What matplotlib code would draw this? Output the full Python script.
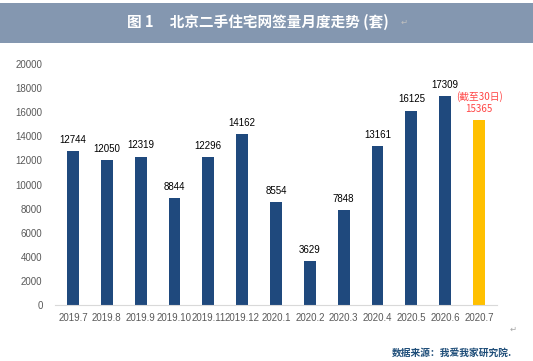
import numpy as np
import matplotlib.pyplot as plt
from matplotlib.patches import Rectangle

plt.rcParams['font.family'] = ['Liberation Sans', 'Noto Sans CJK SC', 'DejaVu Sans']

months = ["2019.7", "2019.8", "2019.9", "2019.10", "2019.11", "2019.12", "2020.1",
          "2020.2", "2020.3", "2020.4", "2020.5", "2020.6", "2020.7"]
values = [12744, 12050, 12319, 8844, 12296, 14162, 8554, 3629, 7848, 13161, 16125, 17309, 15365]
yticks = [0, 2000, 4000, 6000, 8000, 10000, 12000, 14000, 16000, 18000, 20000]

blue = "#1F497D"
gold = "#FFC000"
grey = "#595959"

fig = plt.figure(figsize=[5.33, 3.61], dpi=100)

# title band
fig.patches.append(Rectangle((0, 1 - 43/361), 1, 40/361, transform=fig.transFigure,
                             facecolor="#8497B0", edgecolor="none"))
fig.text(0.484, 1 - 22/361, "图 1     北京二手住宅网签量月度走势 (套)", color="white",
         fontsize=10.5, fontweight="bold", ha="center", va="center",
         family=['Noto Sans CJK SC', 'DejaVu Sans'])
fig.text(0.758, 1 - 22/361, "↵", color="#BFBFBF", fontsize=6, ha="center", va="center",
         family=['DejaVu Sans'])

ax = fig.add_axes([55/533, 1 - 305/361, 442/533, 241/361])
x = np.arange(len(months))
colors = [blue] * (len(months) - 1) + [gold]
ax.bar(x, values, width=0.35, color=colors)

for i, v in enumerate(values[:-1]):
    ax.annotate(str(v), (x[i], v), xytext=(0, 4.5), textcoords="offset points",
                ha="center", va="bottom", fontsize=7, color="black")
ax.annotate("(截至30日)\n15365", (x[-1], values[-1]), xytext=(0, 4.5),
            textcoords="offset points", ha="center", va="bottom", fontsize=7,
            color="#FF4545", linespacing=1.25,
            family=['Noto Sans CJK SC', 'DejaVu Sans'])

ax.set_xlim(-0.53, len(months) - 0.47)
ax.set_ylim(0, 20000)
ax.set_yticks(yticks)
ax.set_yticklabels([str(t) for t in yticks])
ax.set_xticks(x)
ax.set_xticklabels(months)
ax.tick_params(axis="both", length=0, labelsize=7, labelcolor=grey)
ax.tick_params(axis="y", pad=9)
ax.tick_params(axis="x", pad=6)
for s in ["top", "right", "left"]:
    ax.spines[s].set_visible(False)
ax.spines["bottom"].set_color("#D9D9D9")

fig.text(513/533, 1 - 329/361, "↵", color="#A6A6A6", fontsize=6, ha="center", va="center",
         family=['DejaVu Sans'])
fig.text(512/533, 1 - 353/361, "数据来源：我爱我家研究院.", color="#1F4E79", fontsize=7,
         fontweight="bold", ha="right", va="center",
         family=['Noto Sans CJK SC', 'DejaVu Sans'])

plt.savefig("out.png", dpi=100)
